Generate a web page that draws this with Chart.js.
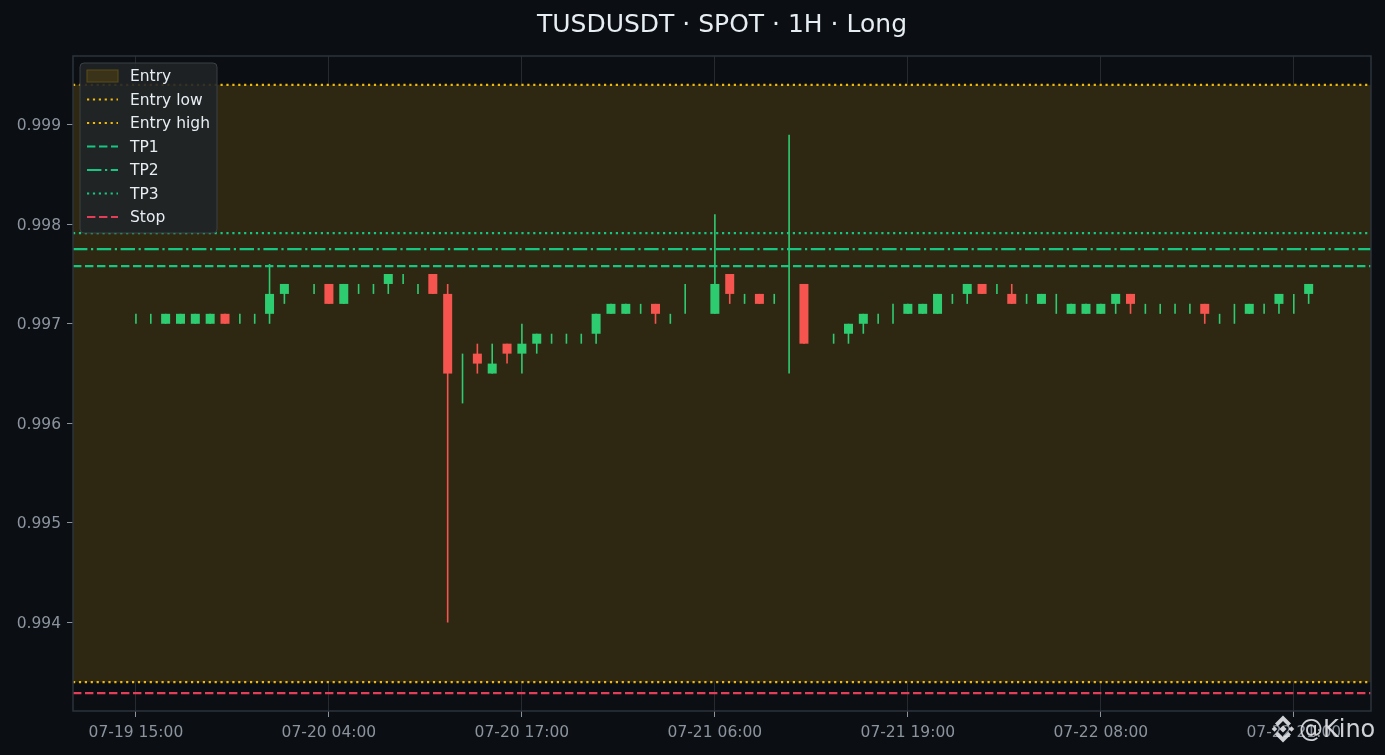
<!DOCTYPE html>
<html>
<head>
<meta charset="utf-8">
<title>TUSDUSDT · SPOT · 1H · Long</title>
<script src="https://cdn.jsdelivr.net/npm/chart.js@4.4.1/dist/chart.umd.min.js"></script>
<style>
  html, body { margin: 0; padding: 0; background: #0b0e12; }
  #wrap { width: 1385px; height: 755px; }
</style>
</head>
<body>
<div id="wrap"><canvas id="chart" width="1385" height="755"></canvas></div>
<script>
// hourly candles, 07-19 15:00 .. 07-22 22:00 (index = hours since first candle)
const opens = [
  0.9970, 0.9970, 0.9970, 0.9970, 0.9970, 0.9970, 0.9971, 0.9970, 0.9970, 0.9971,
  0.9973, 0.9974, 0.9973, 0.9974, 0.9972, 0.9973, 0.9973, 0.9974, 0.9974, 0.9973,
  0.9975, 0.9973, 0.9965, 0.9967, 0.9965, 0.9968, 0.9967, 0.9968, 0.9968, 0.9968,
  0.9968, 0.9969, 0.9971, 0.9971, 0.9971, 0.9972, 0.9970, 0.9972, 0.9971, 0.9971,
  0.9975, 0.9972, 0.9973, 0.9972, 0.9970, 0.9974, 0.9968, 0.9968, 0.9969, 0.9970,
  0.9970, 0.9971, 0.9971, 0.9971, 0.9971, 0.9972, 0.9973, 0.9974, 0.9973, 0.9973,
  0.9972, 0.9972, 0.9972, 0.9971, 0.9971, 0.9971, 0.9972, 0.9973, 0.9971, 0.9971,
  0.9971, 0.9971, 0.9972, 0.9970, 0.9971, 0.9971, 0.9971, 0.9972, 0.9972, 0.9973
];
const highs = [
  0.9971, 0.9971, 0.9971, 0.9971, 0.9971, 0.9971, 0.9971, 0.9971, 0.9971, 0.9976,
  0.9974, 0.9974, 0.9974, 0.9974, 0.9974, 0.9974, 0.9974, 0.9975, 0.9975, 0.9974,
  0.9975, 0.9974, 0.9967, 0.9968, 0.9968, 0.9968, 0.9970, 0.9969, 0.9969, 0.9969,
  0.9969, 0.9971, 0.9972, 0.9972, 0.9972, 0.9972, 0.9971, 0.9974, 0.9971, 0.9981,
  0.9975, 0.9973, 0.9973, 0.9973, 0.9989, 0.9974, 0.9968, 0.9969, 0.9970, 0.9971,
  0.9971, 0.9972, 0.9972, 0.9972, 0.9973, 0.9973, 0.9974, 0.9974, 0.9974, 0.9974,
  0.9973, 0.9973, 0.9973, 0.9972, 0.9972, 0.9972, 0.9973, 0.9973, 0.9972, 0.9972,
  0.9972, 0.9972, 0.9972, 0.9971, 0.9972, 0.9972, 0.9972, 0.9973, 0.9973, 0.9974
];
const lows = [
  0.9970, 0.9970, 0.9970, 0.9970, 0.9970, 0.9970, 0.9970, 0.9970, 0.9970, 0.9970,
  0.9972, 0.9974, 0.9973, 0.9972, 0.9972, 0.9973, 0.9973, 0.9973, 0.9974, 0.9973,
  0.9973, 0.9940, 0.9962, 0.9965, 0.9965, 0.9966, 0.9965, 0.9967, 0.9968, 0.9968,
  0.9968, 0.9968, 0.9971, 0.9971, 0.9971, 0.9970, 0.9970, 0.9971, 0.9971, 0.9971,
  0.9972, 0.9972, 0.9972, 0.9972, 0.9965, 0.9968, 0.9968, 0.9968, 0.9968, 0.9969,
  0.9970, 0.9970, 0.9971, 0.9971, 0.9971, 0.9972, 0.9972, 0.9973, 0.9973, 0.9972,
  0.9972, 0.9972, 0.9971, 0.9971, 0.9971, 0.9971, 0.9971, 0.9971, 0.9971, 0.9971,
  0.9971, 0.9971, 0.9970, 0.9970, 0.9970, 0.9971, 0.9971, 0.9971, 0.9971, 0.9972
];
const closes = [
  0.9970, 0.9970, 0.9971, 0.9971, 0.9971, 0.9971, 0.9970, 0.9970, 0.9970, 0.9973,
  0.9974, 0.9974, 0.9973, 0.9972, 0.9974, 0.9973, 0.9973, 0.9975, 0.9974, 0.9973,
  0.9973, 0.9965, 0.9965, 0.9966, 0.9966, 0.9967, 0.9968, 0.9969, 0.9968, 0.9968,
  0.9968, 0.9971, 0.9972, 0.9972, 0.9971, 0.9971, 0.9970, 0.9972, 0.9971, 0.9974,
  0.9973, 0.9972, 0.9972, 0.9972, 0.9970, 0.9968, 0.9968, 0.9968, 0.9970, 0.9971,
  0.9970, 0.9971, 0.9972, 0.9972, 0.9973, 0.9972, 0.9974, 0.9973, 0.9973, 0.9972,
  0.9972, 0.9973, 0.9972, 0.9972, 0.9972, 0.9972, 0.9973, 0.9972, 0.9971, 0.9971,
  0.9971, 0.9971, 0.9971, 0.9970, 0.9971, 0.9972, 0.9971, 0.9973, 0.9972, 0.9974
];

// trade levels
const ENTRY_LOW = 0.99340;
const ENTRY_HIGH = 0.99940;
const TP1 = 0.99758;
const TP2 = 0.99775;
const TP3 = 0.99791;
const STOP = 0.99329;

// axes
const TIME_TICKS = [0, 13, 26, 39, 52, 65, 78];
const TIME_LABELS = ['07-19 15:00', '07-20 04:00', '07-20 17:00', '07-21 06:00', '07-21 19:00', '07-22 08:00', '07-22 21:00'];
const PRICE_TICKS = [0.994, 0.995, 0.996, 0.997, 0.998, 0.999];
const X_MIN = -4.24, X_MAX = 83.2;
const Y_MIN = 0.99311, Y_MAX = 0.99969;

const TITLE = 'TUSDUSDT · SPOT · 1H · Long';
const WATERMARK = '@Kino';

const UP = '#2ecc71', DOWN = '#f6554f';
const FONT = '"DejaVu Sans", "Liberation Sans", sans-serif';

var candleColors = closes.map((c, i) => c >= opens[i] ? UP : DOWN);
var bodies = closes.map((c, i) => ({x: i, y: [opens[i], c]}));
var wicks = highs.map((h, i) => ({x: i, y: [lows[i], h]}));

function hline(v) {
    return [{x: X_MIN, y: v}, {x: X_MAX, y: v}];
}

function levelLine(label, v, color, dash) {
    return {
        type: 'line', label: label, inLegend: true, data: hline(v),
        borderColor: color, borderWidth: 2.2, borderDash: dash,
        pointRadius: 0, fill: false, order: 0
    };
}

var DOT = [2.2, 3.7];

// title, frame, legend and watermark drawn straight on the canvas
const decor = {
    id: 'decor',
    afterDraw(chart) {
        const ctx = chart.ctx, a = chart.chartArea;
        ctx.save();

        ctx.strokeStyle = '#2d333b';
        ctx.lineWidth = 1.5;
        ctx.strokeRect(a.left, a.top, a.right - a.left, a.bottom - a.top);

        ctx.fillStyle = '#e6edf3';
        ctx.font = '25px ' + FONT;
        ctx.textAlign = 'center';
        ctx.textBaseline = 'middle';
        ctx.fillText(TITLE, (a.left + a.right) / 2, 25);

        // legend box
        var lx = 80, ly = 63, lw = 137, lh = 170;
        ctx.beginPath();
        ctx.roundRect(lx, ly, lw, lh, 4);
        ctx.fillStyle = 'rgba(32,35,39,0.9)';
        ctx.fill();
        ctx.strokeStyle = '#3b4047';
        ctx.lineWidth = 1;
        ctx.stroke();

        ctx.font = '15.5px ' + FONT;
        ctx.textAlign = 'left';
        var y = 76;
        chart.data.datasets.forEach(ds => {
            if (!ds.inLegend) return;
            if (ds.fill) {
                ctx.fillStyle = '#3a3219';
                ctx.fillRect(87, y - 6, 31, 12);
                ctx.strokeStyle = '#5c4c17';
                ctx.lineWidth = 1;
                ctx.strokeRect(87, y - 6, 31, 12);
            } else {
                ctx.beginPath();
                ctx.setLineDash(ds.borderDash);
                ctx.strokeStyle = ds.borderColor;
                ctx.lineWidth = ds.borderWidth;
                ctx.moveTo(87, y);
                ctx.lineTo(118, y);
                ctx.stroke();
                ctx.setLineDash([]);
            }
            ctx.fillStyle = '#e6edf3';
            ctx.fillText(ds.label, 130, y + 1);
            y += 23.5;
        });

        // watermark: exchange mark + handle
        var cx = 1283, cy = 729;
        ctx.fillStyle = 'rgba(228,231,235,0.9)';
        function diamond(x0, y0, r) {
            ctx.beginPath();
            ctx.moveTo(x0, y0 - r); ctx.lineTo(x0 + r, y0);
            ctx.lineTo(x0, y0 + r); ctx.lineTo(x0 - r, y0);
            ctx.closePath(); ctx.fill();
        }
        diamond(cx, cy, 3.6);
        diamond(cx - 8.5, cy, 2.8);
        diamond(cx + 8.5, cy, 2.8);
        [-1, 1].forEach(s => {
            ctx.beginPath();
            ctx.moveTo(cx, cy + s * 13.5);
            ctx.lineTo(cx + 8, cy + s * 5.5);
            ctx.lineTo(cx + 5.2, cy + s * 2.7);
            ctx.lineTo(cx, cy + s * 7.9);
            ctx.lineTo(cx - 5.2, cy + s * 2.7);
            ctx.lineTo(cx - 8, cy + s * 5.5);
            ctx.closePath(); ctx.fill();
        });
        ctx.font = '24px ' + FONT;
        ctx.textAlign = 'left';
        ctx.fillText(WATERMARK, 1299, 731);

        ctx.restore();
    }
};

new Chart(document.getElementById('chart'), {
    type: 'bar',
    data: {
        datasets: [
            {
                type: 'line', label: 'Entry', inLegend: true, data: hline(ENTRY_HIGH),
                borderWidth: 0, pointRadius: 0,
                fill: {value: ENTRY_LOW}, backgroundColor: '#2e2813', order: 10
            },
            levelLine('Entry low', ENTRY_LOW, '#f0b90b', DOT),
            levelLine('Entry high', ENTRY_HIGH, '#f0b90b', DOT),
            levelLine('TP1', TP1, '#16c784', [8.4, 3.6]),
            levelLine('TP2', TP2, '#16c784', [14.4, 3.6, 2.2, 3.6]),
            levelLine('TP3', TP3, '#16c784', DOT),
            levelLine('Stop', STOP, '#e23e57', [8.4, 3.6]),
            {
                label: 'wick', data: wicks, backgroundColor: candleColors,
                barThickness: 1.6, grouped: false, inflateAmount: 0, order: 2
            },
            {
                label: 'body', data: bodies, backgroundColor: candleColors,
                barThickness: 9, grouped: false, inflateAmount: 0, order: 1
            }
        ]
    },
    options: {
        responsive: false,
        animation: false,
        layout: {padding: {top: 56, right: 14, left: 0, bottom: 0}},
        plugins: {
            legend: {display: false},
            title: {display: false},
            tooltip: {enabled: false}
        },
        scales: {
            x: {
                type: 'linear', min: X_MIN, max: X_MAX, offset: false, z: 1,
                afterBuildTicks: s => { s.ticks = TIME_TICKS.map(v => ({value: v})); },
                afterFit: s => { s.height = 44; },
                grid: {color: '#272a2e', offset: false, tickLength: 6, tickColor: '#8b949e'},
                border: {display: false},
                ticks: {
                    color: '#8b949e', padding: 7, maxRotation: 0, autoSkip: false,
                    font: {family: FONT, size: 15.5},
                    callback: v => TIME_LABELS[TIME_TICKS.indexOf(v)]
                }
            },
            y: {
                min: Y_MIN, max: Y_MAX, z: 1,
                afterBuildTicks: s => { s.ticks = PRICE_TICKS.map(v => ({value: v})); },
                afterFit: s => { s.width = 73; },
                grid: {color: '#272a2e', tickLength: 6, tickColor: '#8b949e'},
                border: {display: false},
                ticks: {
                    color: '#8b949e', padding: 6, labelOffset: 1.5,
                    font: {family: FONT, size: 15.5},
                    callback: v => v.toFixed(3)
                }
            }
        }
    },
    plugins: [decor]
});
</script>
</body>
</html>
